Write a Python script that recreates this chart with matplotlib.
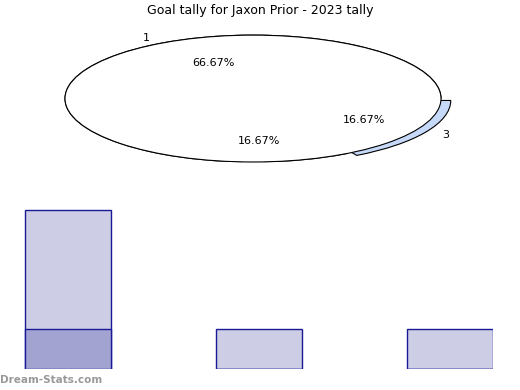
import matplotlib.pyplot as plt
from matplotlib.patches import Circle

# goal tally data
pie_values = [4, 1, 1]
pie_labels = ['1', '', '3']
pie_colors = ['white', 'white', '#c6d9f8']
pie_explode = [0, 0, 0.06]

bar_pos = [0, 1, 2]
bar_totals = [4, 1, 1]
bar_highlight = [1, 0, 0]

fig = plt.figure(figsize=(5.2, 3.9), dpi=100)
fig.text(0.5, 0.972, 'Goal tally for Jaxon Prior - 2023 tally', ha='center', va='center', fontsize=9)

### pie, stretched into an ellipse
ax1 = fig.add_axes([18/520, (390-162)/390, 470/520, 143/390])
wedges, texts, autotexts = ax1.pie(pie_values, labels=pie_labels, colors=pie_colors,
                                   explode=pie_explode, startangle=0, counterclock=True,
                                   autopct='%.2f%%', pctdistance=0.62, labeldistance=1.1,
                                   wedgeprops=dict(edgecolor='black', linewidth=0.8),
                                   textprops=dict(fontsize=8))
# flat white top so only the exploded rim of slice 3 shows
ax1.add_patch(Circle((0, 0), 1, facecolor='white', edgecolor='black', linewidth=0.8, zorder=2))
autotexts[0].set_position((-0.21, 0.56))
autotexts[1].set_position((0.03, -0.67))
ax1.set_aspect('auto')
ax1.set_xlim(-1.25, 1.25)
ax1.set_ylim(-1.0, 1.254)
ax1.axis('off')

### bars
ax2 = fig.add_axes([0, 21/390, 493/520, 169/390])
ax2.bar(bar_pos, bar_totals, width=0.45, color='#cdcde6', edgecolor='#1a1a99', linewidth=1)
ax2.bar(bar_pos, bar_highlight, width=0.45, color='#a3a3d1', edgecolor='#1a1a99', linewidth=1)
ax2.set_xlim(-0.356, 2.225)
ax2.set_ylim(0, 4.25)
ax2.axis('off')

fig.text(0.0, (390-380)/390, 'Dream-Stats.com', ha='left', va='center', fontsize=7.5,
         fontweight='bold', color='#999999')

plt.savefig('out.png')
